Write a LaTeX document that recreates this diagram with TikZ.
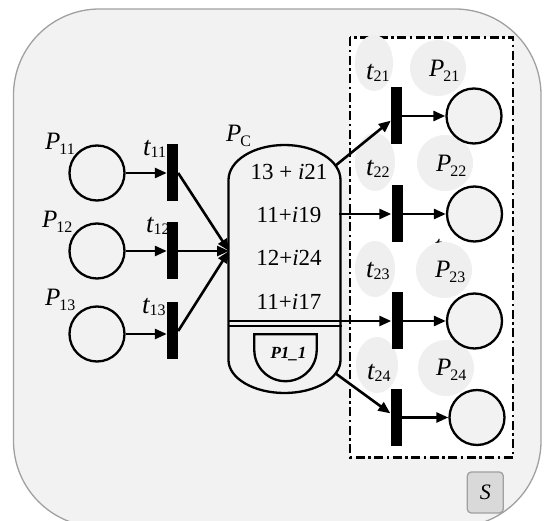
\documentclass[tikz,border=0pt]{standalone}
\usepackage{fontspec}
\setmainfont{Liberation Serif}
\usetikzlibrary{arrows.meta,calc}
\definecolor{bgc}{HTML}{F2F2F2}
\definecolor{edgec}{HTML}{A0A0A0}
\definecolor{ghostc}{HTML}{EFEFEF}
\definecolor{sboxc}{HTML}{D9D9D9}
\newcommand{\lblP}[1]{{\fontsize{25}{25}\selectfont\itshape P}\kern-1pt\raisebox{-5pt}{\fontsize{16}{16}\selectfont #1}}
\newcommand{\lblt}[1]{{\fontsize{27}{27}\selectfont\itshape t}\raisebox{-1.5pt}{\fontsize{16}{16}\selectfont #1}}
\tikzset{
  place/.style={circle,draw=black,line width=2.3pt,fill=bgc,minimum size=55pt,inner sep=0pt},
  tbar/.style={rectangle,fill=black,minimum width=11pt,minimum height=57pt,inner sep=0pt},
  arr/.style={draw=black,line width=2.6pt,-{Triangle[length=12pt,width=10pt]}},
  lbl/.style={anchor=base west,inner sep=0pt},
  ghost/.style={fill=ghostc},
  pcline/.style={draw=black,line width=2.3pt,fill=bgc},
  mtext/.style={inner sep=0pt,font=\fontsize{23}{23}\selectfont}
}
\begin{document}
\begin{tikzpicture}[x=1pt,y=-1pt]
\useasboundingbox (0,0) rectangle (544,521);
\clip (0,0) rectangle (544,521);
% background rounded box
\draw[draw=edgec,line width=1.3pt,fill=bgc,rounded corners=86pt] (13.5,9) rectangle (541,527);
% dash-dot frame
\draw[line width=2.6pt,fill=white,dash pattern=on 9pt off 3.5pt on 2.5pt off 3.5pt] (350,37.5) rectangle (513,457.5);
% ghost blobs
\fill[ghost] (374,63) ellipse[x radius=19,y radius=28];
\fill[ghost] (438,68) circle[radius=28];
\fill[ghost] (375,162) ellipse[x radius=20,y radius=29];
\fill[ghost] (445,163) circle[radius=28];
\node[lbl] (frag2) at (434,255) {\fontsize{27}{27}\selectfont\itshape t};
\fill[ghost] (375,269) ellipse[x radius=20,y radius=28];
\fill[ghost] (444,270) circle[radius=28];
\fill[ghost] (377,365) ellipse[x radius=21,y radius=28];
\fill[ghost] (446,368) circle[radius=28];
% right labels
\node[lbl] (lt21) at (366,80) {\lblt{21}};
\node[lbl] (lp21) at (429,77) {\lblP{21}};
\node[lbl] (lt22) at (366,176) {\lblt{22}};
\node[lbl] (lp22) at (436,172) {\lblP{22}};
\node[lbl] (lt23) at (366,278) {\lblt{23}};
\node[lbl] (lp23) at (435,278) {\lblP{23}};
\node[lbl] (lt24) at (367,380) {\lblt{24}};
\node[lbl] (lp24) at (436,376) {\lblP{24}};
% left labels
\node[lbl] (lp11) at (45,150) {\lblP{11}};
\node[lbl] (lp12) at (42,228) {\lblP{12}};
\node[lbl] (lp13) at (45,306) {\lblP{13}};
\node[lbl] (lt11) at (143,156) {\lblt{11}};
\node[lbl] (lt12) at (146,233) {\lblt{12}};
\node[lbl] (lt13) at (142,314) {\lblt{13}};
\node[lbl] (lpc) at (226,141.5) {\lblP{C}};
% left places and transitions
\node[place] (p11) at (97,173) {};
\node[place] (p12) at (97,251) {};
\node[place] (p13) at (97,334) {};
\node[tbar] (t11) at (172.5,173) {};
\node[tbar] (t12) at (172.5,251) {};
\node[tbar] (t13) at (172.5,331) {};
% right places and transitions
\node[tbar] (t21) at (396.5,116) {};
\node[tbar] (t22) at (397,214) {};
\node[tbar] (t23) at (397,321) {};
\node[tbar] (t24) at (396,417.5) {};
\node[place] (p21) at (474,116) {};
\node[place] (p22) at (474.5,214) {};
\node[place] (p23) at (474.5,321) {};
\node[place] (p24) at (477,417.5) {};
% central place P_C
\draw[pcline] (228.5,360) -- (228.5,180) arc[start angle=180,end angle=360,x radius=56,y radius=35] -- (340.5,360) arc[start angle=0,end angle=180,x radius=56,y radius=33] -- cycle;
\draw[line width=2pt] (228.5,321) -- (343,321);
\draw[line width=2pt] (228.5,326) -- (341.5,326);
\draw[line width=2.3pt] (254.3,334.3) -- (254.3,350) arc[start angle=180,end angle=0,radius=31.2] -- (316.7,334.3) -- cycle;
\node[mtext] (v1) at (289,171.7) {13 + \textit{i}21};
\node[mtext] (v2) at (289,215) {11+\textit{i}19};
\node[mtext] (v3) at (289,258.3) {12+\textit{i}24};
\node[mtext] (v4) at (289,301.7) {11+\textit{i}17};
\node[inner sep=0pt,font=\fontsize{17}{17}\selectfont\bfseries\itshape] (p11in) at (288.5,354.5) {P1\_1};
\coordinate (pcL) at (229,251);
\coordinate (pcTR) at (335,166);
\coordinate (pcR1) at (339,214);
\coordinate (pcR3) at (341,321);
\coordinate (pcBR) at (335,373);
% arcs
\draw[arr] (p11) -- (t11);
\draw[arr] (p12) -- (t12);
\draw[arr] (p13) -- (t13.west |- p13);
\draw[arr] (t11.east) -- (pcL);
\draw[arr] (t12.east) -- (pcL);
\draw[arr] (t13.east) -- (pcL);
\draw[arr] (pcTR) -- (t21);
\draw[arr] (pcR1) -- (t22);
\draw[arr] (pcR3) -- (t23);
\draw[arr] (pcBR) -- (t24);
\draw[arr] (t21) -- (p21);
\draw[arr] (t22) -- (p22);
\draw[arr] (t23) -- (p23);
\draw[arr] (t24) -- (p24);
% S box
\node[draw=edgec,line width=1.3pt,fill=sboxc,rounded corners=4pt,minimum width=36pt,minimum height=41pt,inner sep=0pt] (sbox) at (485.3,492.5) {\fontsize{22}{22}\selectfont\itshape S};
\end{tikzpicture}
\end{document}
